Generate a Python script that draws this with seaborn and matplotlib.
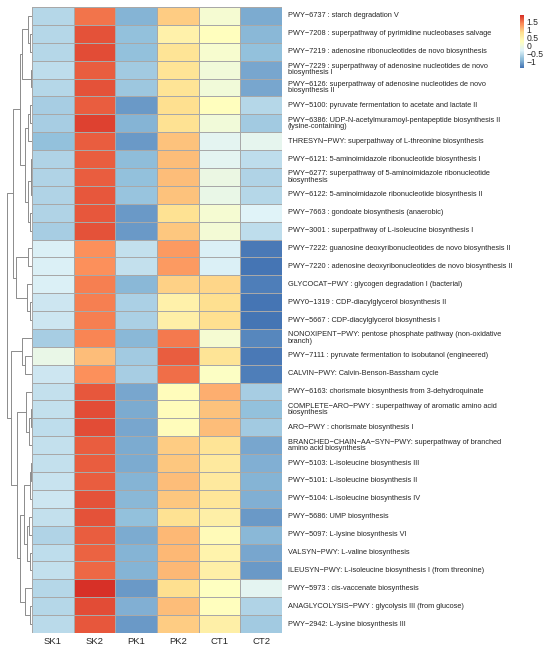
import numpy as np
import pandas as pd
import matplotlib
matplotlib.use("Agg")
import matplotlib.pyplot as plt
import seaborn as sns
from matplotlib.colors import LinearSegmentedColormap

# samples (columns) and pathways (rows), in the order they appear in the figure
samples = ["SK1", "SK2", "PK1", "PK2", "CT1", "CT2"]

pathways = [
    "PWY−6737 : starch degradation V",
    "PWY−7208 : superpathway of pyrimidine nucleobases salvage",
    "PWY−7219 : adenosine ribonucleotides de novo biosynthesis",
    "PWY−7229 : superpathway of adenosine nucleotides de novo\nbiosynthesis I",
    "PWY−6126: superpathway of adenosine nucleotides de novo\nbiosynthesis II",
    "PWY−5100: pyruvate fermentation to acetate and lactate II",
    "PWY−6386: UDP-N-acetylmuramoyl-pentapeptide biosynthesis II\n(lysine-containing)",
    "THRESYN−PWY: superpathway of L-threonine biosynthesis",
    "PWY−6121: 5-aminoimidazole ribonucleotide biosynthesis I",
    "PWY−6277: superpathway of 5-aminoimidazole ribonucleotide\nbiosynthesis",
    "PWY−6122: 5-aminoimidazole ribonucleotide biosynthesis II",
    "PWY−7663 : gondoate biosynthesis (anaerobic)",
    "PWY−3001 : superpathway of L-isoleucine biosynthesis I",
    "PWY−7222: guanosine deoxyribonucleotides de novo biosynthesis II",
    "PWY−7220 : adenosine deoxyribonucleotides de novo biosynthesis II",
    "GLYCOCAT−PWY : glycogen degradation I (bacterial)",
    "PWY0−1319 : CDP-diacylglycerol biosynthesis II",
    "PWY−5667 : CDP-diacylglycerol biosynthesis I",
    "NONOXIPENT−PWY: pentose phosphate pathway (non-oxidative\nbranch)",
    "PWY−7111 : pyruvate fermentation to isobutanol (engineered)",
    "CALVIN−PWY: Calvin-Benson-Bassham cycle",
    "PWY−6163: chorismate biosynthesis from 3-dehydroquinate",
    "COMPLETE−ARO−PWY : superpathway of aromatic amino acid\nbiosynthesis",
    "ARO−PWY : chorismate biosynthesis I",
    "BRANCHED−CHAIN−AA−SYN−PWY: superpathway of branched\namino acid biosynthesis",
    "PWY−5103: L-isoleucine biosynthesis III",
    "PWY−5101: L-isoleucine biosynthesis II",
    "PWY−5104: L-isoleucine biosynthesis IV",
    "PWY−5686: UMP biosynthesis",
    "PWY−5097: L-lysine biosynthesis VI",
    "VALSYN−PWY: L-valine biosynthesis",
    "ILEUSYN−PWY: L-isoleucine biosynthesis I (from threonine)",
    "PWY−5973 : cis-vaccenate biosynthesis",
    "ANAGLYCOLYSIS−PWY : glycolysis III (from glucose)",
    "PWY−2942: L-lysine biosynthesis III",
]

# row-scaled abundance (z-score)
sk1 = [-0.60, -0.60, -0.60, -0.55, -0.60, -0.70, -0.70, -0.85, -0.65, -0.65,
       -0.65, -0.65, -0.70, -0.35, -0.35, -0.33, -0.42, -0.42, -0.70, -0.15,
       -0.45, -0.50, -0.50, -0.55, -0.50, -0.50, -0.48, -0.42, -0.50, -0.65,
       -0.52, -0.50, -0.60, -0.60, -0.58]
sk2 = [1.50, 1.70, 1.75, 1.65, 1.70, 1.65, 1.80, 1.65, 1.65, 1.65,
       1.67, 1.67, 1.70, 1.35, 1.35, 1.42, 1.45, 1.45, 1.40, 1.05,
       1.33, 1.67, 1.75, 1.75, 1.62, 1.62, 1.63, 1.70, 1.70, 1.63,
       1.60, 1.58, 1.90, 1.75, 1.67]
pk1 = [-0.95, -0.85, -0.85, -0.72, -0.78, -1.15, -0.95, -1.15, -0.88, -0.82,
       -0.80, -1.15, -1.12, -0.50, -0.50, -0.90, -0.68, -0.68, -0.90, -0.72,
       -0.70, -1.05, -1.00, -1.05, -1.00, -1.00, -0.95, -0.90, -0.85, -1.00,
       -0.95, -0.92, -1.15, -0.98, -1.12]
pk2 = [0.95, 0.50, 0.75, 0.75, 0.75, 0.80, 0.78, 1.00, 1.02, 1.02,
       1.00, 0.78, 0.97, 1.28, 1.28, 0.90, 0.50, 0.55, 1.47, 1.62,
       1.55, 0.30, 0.30, 0.30, 0.93, 0.97, 1.05, 0.97, 0.78, 1.07,
       1.07, 1.07, 0.80, 1.05, 0.93]
ct1 = [0.05, 0.25, 0.10, 0.00, 0.00, 0.25, 0.00, -0.25, -0.22, -0.10,
       -0.12, 0.05, 0.02, -0.35, -0.35, 0.88, 0.80, 0.80, 0.05, 0.72,
       0.20, 1.15, 1.00, 1.02, 0.72, 0.65, 0.65, 0.70, 0.55, 0.35,
       0.48, 0.52, 0.22, 0.27, 0.52]
ct2 = [-1.00, -0.90, -0.85, -1.05, -1.05, -0.60, -0.75, -0.20, -0.55, -0.62,
       -0.60, -0.30, -0.55, -1.38, -1.40, -1.35, -1.42, -1.40, -1.28, -1.38,
       -1.32, -0.70, -0.85, -0.72, -1.02, -0.98, -0.95, -0.98, -1.12, -0.90,
       -1.05, -1.12, -0.22, -0.62, -0.72]

# row dendrogram: (left, right, merge height), leaves are row indices
row_tree = (
    (
        (
            ((0, (1, 2, 2), 4), (3, 4, 1.5), 10),
            (((5, 6, 2), 7, 4), (((8, 9, 1), 10, 1.5), (11, 12, 2), 4), 7),
            12.5),
        ((13, 14, 4), (15, (16, 17, 2), 5), 16),
        19),
    (
        (18, (19, 20, 7), 10),
        ((21, ((22, 23, 1), 24, 3), 6),
         ((((25, 26, 1), 27, 2), ((28, 29, 3), (30, 31, 2), 5), 8),
          (32, (33, 34, 2), 7), 12),
         15),
        21),
    25)

cbar_ticks = [-1, -0.5, 0, 0.5, 1, 1.5]

df = pd.DataFrame({"SK1": sk1, "SK2": sk2, "PK1": pk1,
                   "PK2": pk2, "CT1": ct1, "CT2": ct2}, index=pathways)[samples]

# pheatmap default palette: rev(brewer.pal(7, "RdYlBu"))
cmap = LinearSegmentedColormap.from_list(
    "pheat", ["#4575B4", "#91BFDB", "#E0F3F8", "#FFFFBF",
              "#FEE090", "#FC8D59", "#D73027"], N=100)

sns.set_style("white")
plt.rcParams["font.family"] = ["Liberation Sans", "DejaVu Sans"]

fig = plt.figure(figsize=(5.5, 6.5), dpi=100)
ax_hm = fig.add_axes([32 / 550, 17 / 650, 250 / 550, 626 / 650])
ax_den = fig.add_axes([0, 17 / 650, 32 / 550, 626 / 650])
ax_cb = fig.add_axes([520 / 550, (650 - 68) / 650, 3.5 / 550, 53 / 650])

sns.heatmap(df, ax=ax_hm, cmap=cmap, vmin=-1.42, vmax=1.92,
            linewidths=0.5, linecolor="#a8a8a8", cbar_ax=ax_cb,
            cbar_kws={"ticks": cbar_ticks})

# row labels on the right, column labels below
ax_hm.yaxis.tick_right()
ax_hm.set_yticks(np.arange(len(pathways)) + 0.5)
ax_hm.set_yticklabels(pathways, rotation=0, ha="left", va="center",
                      fontsize=5.3, linespacing=0.85)
ax_hm.set_xticklabels(samples, rotation=0, fontsize=6.8)
ax_hm.tick_params(axis="both", length=0)
ax_hm.tick_params(axis="y", pad=4)
ax_hm.tick_params(axis="x", pad=3)
ax_hm.set_xlabel("")
ax_hm.set_ylabel("")

# colour key
cb = ax_hm.collections[0].colorbar
cb.outline.set_visible(False)
cb.ax.tick_params(length=0, labelsize=6.2, pad=2)
cb.ax.set_yticklabels([f"{t:g}".replace("-", "−") for t in cbar_ticks])


def draw_node(node, ax):
    # returns (y position, height) of a node and draws its branches
    if isinstance(node, int):
        return node + 0.5, 0.0
    left, right, h = node
    yl, hl = draw_node(left, ax)
    yr, hr = draw_node(right, ax)
    ax.plot([hl, h, h, hr], [yl, yl, yr, yr], color="#8c8c8c", lw=0.7)
    return (yl + yr) / 2, h


draw_node(row_tree, ax_den)
ax_den.set_ylim(len(pathways), 0)
ax_den.set_xlim(32, 0)
ax_den.axis("off")

fig.savefig("out.png", dpi=100)
